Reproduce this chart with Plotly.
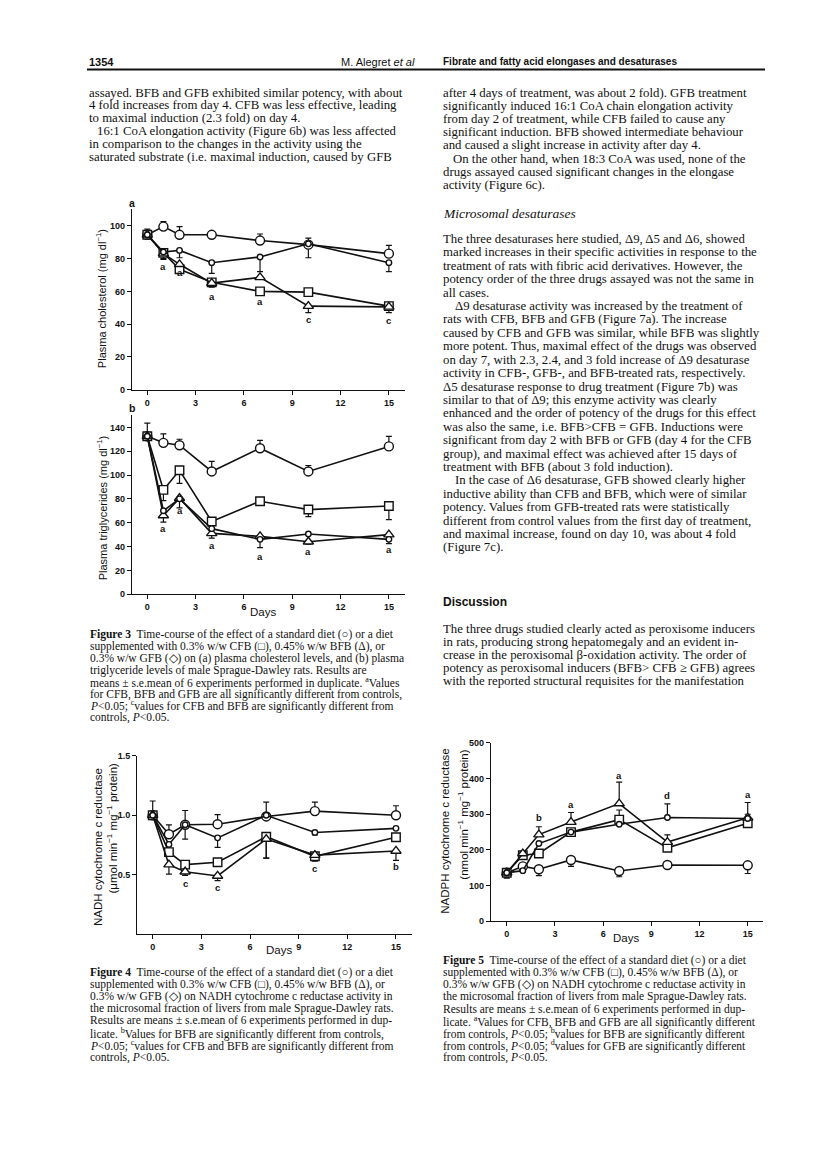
import plotly.graph_objects as go

W, H = 816, 1161


def px(x):
    return x / W


def py(y):
    return 1 - y / H


# ---------------- data ----------------
days = [0, 1, 2, 4, 7, 10, 15]

# Figure 3a: plasma cholesterol (mg/dl)
chol_ctrl = [94.5, 99.5, 94.5, 94.5, 91, 88.5, 83]
chol_ctrl_up = [3.5, 3, 5, 1, 4, 4, 5]
chol_ctrl_dn = [0, 0, 0, 0, 0, 0, 0]
chol_cfb = [94.5, 83.5, 73.5, 65.5, 60, 59.5, 51]
chol_cfb_up = [0, 0, 0, 0, 0, 0, 0]
chol_cfb_dn = [0, 4, 2.5, 3, 0, 2.5, 0]
chol_bfb = [94.5, 83, 76.5, 65, 68.5, 51, 50.5]
chol_bfb_up = [0, 0, 0, 0, 0, 0, 0]
chol_bfb_dn = [0, 0, 0, 0, 0, 4, 3.5]
chol_gfb = [94.5, 84, 85, 77.5, 81, 89, 77.5]
chol_gfb_up = [0, 0, 0, 0, 0, 0, 0]
chol_gfb_dn = [0, 4, 4.5, 6.5, 9, 8.5, 5.5]
chol_sig_days = [1, 2, 4, 7, 10, 15]
chol_sig_vals = [75, 71.5, 57, 54, 43, 42.5]
chol_sig_text = ["a", "a", "a", "a", "c", "c"]

# Figure 3b: plasma triglycerides (mg/dl)
tg_ctrl = [132.5, 127, 125, 103, 122.5, 103, 124]
tg_ctrl_up = [11, 7.5, 5, 8.5, 6.5, 5, 8.5]
tg_ctrl_dn = [0, 0, 0, 0, 0, 0, 0]
tg_cfb = [132.5, 87.5, 104, 61, 78, 71, 74]
tg_cfb_up = [0, 0, 0, 0, 0, 0, 0]
tg_cfb_dn = [0, 9, 11, 0, 3, 6, 11.5]
tg_bfb = [132.5, 66, 80.5, 51, 48.5, 44, 50]
tg_bfb_up = [0, 0, 0, 0, 0, 0, 0]
tg_bfb_dn = [0, 5.5, 8, 4, 0, 2, 0]
tg_gfb = [132.5, 70, 80, 55, 46, 50.5, 46]
tg_gfb_up = [0, 0, 0, 0, 0, 0, 0]
tg_gfb_dn = [0, 0, 0, 0, 7, 0, 3.5]
tg_sig_days = [1, 2, 4, 7, 10, 15]
tg_sig_vals = [55.5, 70.5, 41, 32, 35.5, 37.5]
tg_sig_text = ["a", "a", "a", "a", "a", "a"]

# Figure 4: NADH cytochrome c reductase (umol/min/mg protein)
nadh_ctrl = [1.0, 0.84, 0.92, 0.925, 0.99, 1.035, 1.0]
nadh_ctrl_up = [0.12, 0.08, 0.12, 0.08, 0.12, 0.075, 0.08]
nadh_ctrl_dn = [0, 0, 0.12, 0, 0, 0, 0]
nadh_cfb = [1.0, 0.69, 0.585, 0.605, 0.82, 0.655, 0.815]
nadh_cfb_up = [0, 0, 0, 0, 0, 0, 0.02]
nadh_cfb_dn = [0, 0, 0, 0.035, 0.18, 0.04, 0.02]
nadh_bfb = [1.0, 0.585, 0.525, 0.49, 0.80, 0.665, 0.70]
nadh_bfb_up = [0, 0, 0, 0, 0, 0, 0]
nadh_bfb_dn = [0, 0.08, 0.03, 0.04, 0.16, 0.02, 0.08]
nadh_gfb = [1.0, 0.755, 0.92, 0.81, 1.0, 0.855, 0.89]
nadh_gfb_up = [0, 0, 0, 0, 0, 0, 0]
nadh_gfb_dn = [0, 0, 0, 0.08, 0, 0.02, 0]
nadh_sig_days = [2, 4, 10, 15]
nadh_sig_vals = [0.43, 0.395, 0.553, 0.567]
nadh_sig_text = ["c", "c", "c", "b"]

# Figure 5: NADPH cytochrome c reductase (nmol/min/mg protein)
nadph_ctrl = [136, 154, 146, 172, 141, 158, 157]
nadph_ctrl_up = [0, 0, 0, 0, 0, 0, 0]
nadph_ctrl_dn = [15, 0, 18, 18, 16, 5, 23]
nadph_cfb = [136, 185, 190, 250, 285, 206, 275]
nadph_cfb_up = [0, 8, 0, 0, 27, 0, 25]
nadph_cfb_dn = [0, 0, 0, 0, 0, 0, 0]
nadph_bfb = [136, 190, 243, 278, 330, 222, 290]
nadph_bfb_up = [0, 0, 22, 27, 60, 20, 43]
nadph_bfb_dn = [0, 0, 0, 0, 0, 0, 0]
nadph_gfb = [136, 142, 218, 250, 272, 291, 288]
nadph_gfb_up = [0, 0, 0, 0, 0, 38, 0]
nadph_gfb_dn = [0, 0, 0, 0, 0, 0, 0]
nadph_sig_days = [2, 4, 7, 10, 15]
nadph_sig_vals = [290, 327, 410, 352, 355]
nadph_sig_text = ["b", "a", "a", "d", "a"]

x_ticks = [0, 3, 6, 9, 12, 15]

# ---------------- styles ----------------
SANS = "Liberation Sans, Arial, sans-serif"
NARROW = "Liberation Sans Narrow, Liberation Sans, Arial Narrow, sans-serif"
SERIF = "Liberation Serif, Times New Roman, serif"
INK = "#111111"

styles = {
    "ctrl": dict(symbol="circle", size=9),
    "cfb": dict(symbol="square", size=8.5),
    "bfb": dict(symbol="triangle-up", size=9),
    "gfb": dict(symbol="circle", size=5.5),
}

fig = go.Figure()


def add_panel(xa, ya, series):
    # error bars first (under the lines and markers)
    for key, vals, up, dn in series:
        idx = [i for i in range(len(days)) if up[i] > 0 or dn[i] > 0]
        if not idx:
            continue
        fig.add_trace(go.Scatter(
            x=[days[i] for i in idx], y=[vals[i] for i in idx],
            xaxis=xa, yaxis=ya, mode="markers",
            marker=dict(size=1, color="rgba(0,0,0,0)"),
            error_y=dict(type="data", symmetric=False,
                         array=[up[i] for i in idx],
                         arrayminus=[dn[i] for i in idx],
                         color=INK, thickness=1.2, width=3),
            showlegend=False, hoverinfo="skip"))
    for key, vals, up, dn in series:
        st = styles[key]
        fig.add_trace(go.Scatter(
            x=days, y=vals, xaxis=xa, yaxis=ya, mode="lines+markers",
            line=dict(color=INK, width=1.6),
            marker=dict(symbol=st["symbol"], size=st["size"], color="white",
                        line=dict(color=INK, width=1.4)),
            showlegend=False, cliponaxis=False))


add_panel("x", "y", [
    ("ctrl", chol_ctrl, chol_ctrl_up, chol_ctrl_dn),
    ("cfb", chol_cfb, chol_cfb_up, chol_cfb_dn),
    ("bfb", chol_bfb, chol_bfb_up, chol_bfb_dn),
    ("gfb", chol_gfb, chol_gfb_up, chol_gfb_dn),
])
add_panel("x2", "y2", [
    ("ctrl", tg_ctrl, tg_ctrl_up, tg_ctrl_dn),
    ("cfb", tg_cfb, tg_cfb_up, tg_cfb_dn),
    ("bfb", tg_bfb, tg_bfb_up, tg_bfb_dn),
    ("gfb", tg_gfb, tg_gfb_up, tg_gfb_dn),
])
add_panel("x3", "y3", [
    ("ctrl", nadh_ctrl, nadh_ctrl_up, nadh_ctrl_dn),
    ("cfb", nadh_cfb, nadh_cfb_up, nadh_cfb_dn),
    ("bfb", nadh_bfb, nadh_bfb_up, nadh_bfb_dn),
    ("gfb", nadh_gfb, nadh_gfb_up, nadh_gfb_dn),
])
add_panel("x4", "y4", [
    ("ctrl", nadph_ctrl, nadph_ctrl_up, nadph_ctrl_dn),
    ("cfb", nadph_cfb, nadph_cfb_up, nadph_cfb_dn),
    ("bfb", nadph_bfb, nadph_bfb_up, nadph_bfb_dn),
    ("gfb", nadph_gfb, nadph_gfb_up, nadph_gfb_dn),
])

tickfont = dict(family=SANS, size=9, color=INK, weight="bold")
ax_common = dict(showline=True, linecolor=INK, linewidth=1.3, ticks="outside",
                 ticklen=4, tickwidth=1.2, tickcolor=INK, showgrid=False,
                 zeroline=False, tickfont=tickfont, fixedrange=True)


def xaxis(dom, rng, anchor):
    return dict(ax_common, domain=dom, range=rng, anchor=anchor,
                tickvals=x_ticks, ticktext=[str(t) for t in x_ticks])


def yaxis(dom, rng, anchor, vals, text):
    return dict(ax_common, domain=dom, range=rng, anchor=anchor,
                tickvals=vals, ticktext=text)


chol_ticks = [0, 20, 40, 60, 80, 100]
tg_ticks = [0, 20, 40, 60, 80, 100, 120, 140]
nadh_ticks = [0.5, 1.0, 1.5]
nadph_ticks = [0, 100, 200, 300, 400, 500]

fig.update_layout(
    width=W, height=H, margin=dict(l=0, r=0, t=0, b=0),
    paper_bgcolor="white", plot_bgcolor="white", showlegend=False,
    xaxis=xaxis([px(132), px(405)], [-0.95, 16.0], "y"),
    yaxis=yaxis([py(388), py(206.2)], [0, 110], "x",
                chol_ticks, [str(t) for t in chol_ticks]),
    xaxis2=xaxis([px(132), px(405)], [-0.95, 16.0], "y2"),
    yaxis2=yaxis([py(594.3), py(414)], [0, 150], "x2",
                 tg_ticks, [str(t) for t in tg_ticks]),
    xaxis3=xaxis([px(137.3), px(411.7)], [-0.95, 15.97], "y3"),
    yaxis3=yaxis([py(937.3), py(757.3)], [0, 1.5], "x3",
                 nadh_ticks, ["%.1f" % t for t in nadh_ticks]),
    xaxis4=xaxis([px(491), px(763.3)], [-0.98, 15.97], "y4"),
    yaxis4=yaxis([py(924.3), py(744.3)], [0, 500], "x4",
                 nadph_ticks, [str(t) for t in nadph_ticks]),
)

ann = []

# significance letters
for xa, ya, dd, vv, tt in [
    ("x", "y", chol_sig_days, chol_sig_vals, chol_sig_text),
    ("x2", "y2", tg_sig_days, tg_sig_vals, tg_sig_text),
    ("x3", "y3", nadh_sig_days, nadh_sig_vals, nadh_sig_text),
    ("x4", "y4", nadph_sig_days, nadph_sig_vals, nadph_sig_text),
]:
    for d, v, t in zip(dd, vv, tt):
        ann.append(dict(x=d, y=v, xref=xa, yref=ya, text=t, showarrow=False,
                        font=dict(family=SANS, size=9.5, color=INK, weight="bold"),
                        xanchor="center", yanchor="middle"))


def text_at(x, y, text, size, family=SERIF, anchor="left", angle=0, weight="normal"):
    ann.append(dict(x=px(x), y=py(y), xref="paper", yref="paper", text=text,
                    showarrow=False, textangle=angle,
                    font=dict(family=family, size=size, color=INK, weight=weight),
                    xanchor=anchor, yanchor="middle"))


# axis titles and panel labels
text_at(132, 200, "a", 10.5, SANS, "center", weight="bold")
text_at(132, 406, "b", 10.5, SANS, "center", weight="bold")
text_at(101.7, 296, "Plasma cholesterol (mg dl<sup>−1</sup>)", 11, SANS, "center", -90)
text_at(101.7, 508, "Plasma triglycerides (mg dl<sup>−1</sup>)", 11, SANS, "center", -90)
text_at(263, 612, "Days", 11.5, SANS, "center")
text_at(97.3, 849, "NADH cytochrome c reductase", 11.5, SANS, "center", -90)
text_at(111.7, 830, "(μmol min<sup>−1</sup> mg<sup>−1</sup> protein)", 11.5, SANS, "center", -90)
text_at(279, 953, "Days", 11.5, SANS, "center")
text_at(445, 833, "NADPH cytochrome c reductase", 11.5, SANS, "center", -90)
text_at(462.7, 817, "(nmol min<sup>−1</sup> mg<sup>−1</sup> protein)", 11.5, SANS, "center", -90)
text_at(626, 941, "Days", 11.5, SANS, "center")

# running head
text_at(87, 57.3, "1354", 11, NARROW, "left", weight="bold")
text_at(417, 57.3, "M. Alegret <i>et al</i>", 11, NARROW, "right")
text_at(441, 57.3, "Fibrate and fatty acid elongases and desaturases", 10, NARROW, "left", weight="bold")

BODY = 12.8
left_top = [
    ("assayed. BFB and GFB exhibited similar potency, with about", 0),
    ("4 fold increases from day 4. CFB was less effective, leading", 0),
    ("to maximal induction (2.3 fold) on day 4.", 0),
    ("16:1 CoA elongation activity (Figure 6b) was less affected", 1),
    ("in comparison to the changes in the activity using the", 0),
    ("saturated substrate (i.e. maximal induction, caused by GFB", 0),
]
for i, (t, ind) in enumerate(left_top):
    text_at(87 + 8 * ind, 88.3 + 13.0 * i, t, BODY)

right_a = [
    ("after 4 days of treatment, was about 2 fold). GFB treatment", 0),
    ("significantly induced 16:1 CoA chain elongation activity", 0),
    ("from day 2 of treatment, while CFB failed to cause any", 0),
    ("significant induction. BFB showed intermediate behaviour", 0),
    ("and caused a slight increase in activity after day 4.", 0),
    ("On the other hand, when 18:3 CoA was used, none of the", 1),
    ("drugs assayed caused significant changes in the elongase", 0),
    ("activity (Figure 6c).", 0),
]
for i, (t, ind) in enumerate(right_a):
    text_at(441 + 10 * ind, 88.3 + 13.34 * i, t, BODY)

text_at(441, 210.7, "<i>Microsomal desaturases</i>", 13.5)

right_b = [
    ("The three desaturases here studied, Δ9, Δ5 and Δ6, showed", 0),
    ("marked increases in their specific activities in response to the", 0),
    ("treatment of rats with fibric acid derivatives. However, the", 0),
    ("potency order of the three drugs assayed was not the same in", 0),
    ("all cases.", 0),
    ("Δ9 desaturase activity was increased by the treatment of", 1),
    ("rats with CFB, BFB and GFB (Figure 7a). The increase", 0),
    ("caused by CFB and GFB was similar, while BFB was slightly", 0),
    ("more potent. Thus, maximal effect of the drugs was observed", 0),
    ("on day 7, with 2.3, 2.4, and 3 fold increase of Δ9 desaturase", 0),
    ("activity in CFB-, GFB-, and BFB-treated rats, respectively.", 0),
    ("Δ5 desaturase response to drug treatment (Figure 7b) was", 0),
    ("similar to that of Δ9; this enzyme activity was clearly", 0),
    ("enhanced and the order of potency of the drugs for this effect", 0),
    ("was also the same, i.e. BFB&gt;CFB = GFB. Inductions were", 0),
    ("significant from day 2 with BFB or GFB (day 4 for the CFB", 0),
    ("group), and maximal effect was achieved after 15 days of", 0),
    ("treatment with BFB (about 3 fold induction).", 0),
    ("In the case of Δ6 desaturase, GFB showed clearly higher", 1),
    ("inductive ability than CFB and BFB, which were of similar", 0),
    ("potency. Values from GFB-treated rats were statistically", 0),
    ("different from control values from the first day of treatment,", 0),
    ("and maximal increase, found on day 10, was about 4 fold", 0),
    ("(Figure 7c).", 0),
]
for i, (t, ind) in enumerate(right_b):
    text_at(441 + 12 * ind, 236 + 13.53 * i, t, BODY)

text_at(441, 601.7, "Discussion", 12, NARROW, weight="bold")

right_c = [
    "The three drugs studied clearly acted as peroxisome inducers",
    "in rats, producing strong hepatomegaly and an evident in-",
    "crease in the peroxisomal β-oxidation activity. The order of",
    "potency as peroxisomal inducers (BFB&gt; CFB ≥ GFB) agrees",
    "with the reported structural requisites for the manifestation",
]
for i, t in enumerate(right_c):
    text_at(441, 629 + 13.33 * i, t, BODY)

CAP = 11.5
cap3 = [
    "<b>Figure 3</b>  Time-course of the effect of a standard diet (○) or a diet",
    "supplemented with 0.3% w/w CFB (□), 0.45% w/w BFB (Δ), or",
    "0.3% w/w GFB (◇) on (a) plasma cholesterol levels, and (b) plasma",
    "triglyceride levels of male Sprague-Dawley rats. Results are",
    "means ± s.e.mean of 6 experiments performed in duplicate. <sup>a</sup>Values",
    "for CFB, BFB and GFB are all significantly different from controls,",
    "<i>P</i>&lt;0.05; <sup>c</sup>values for CFB and BFB are significantly different from",
    "controls, <i>P</i>&lt;0.05.",
]
for i, t in enumerate(cap3):
    text_at(88, 635 + 12.0 * i, t, CAP)

cap4 = [
    "<b>Figure 4</b>  Time-course of the effect of a standard diet (○) or a diet",
    "supplemented with 0.3% w/w CFB (□), 0.45% w/w BFB (Δ), or",
    "0.3% w/w GFB (◇) on NADH cytochrome c reductase activity in",
    "the microsomal fraction of livers from male Sprague-Dawley rats.",
    "Results are means ± s.e.mean of 6 experiments performed in dup-",
    "licate. <sup>b</sup>Values for BFB are significantly different from controls,",
    "<i>P</i>&lt;0.05; <sup>c</sup>values for CFB and BFB are significantly different from",
    "controls, <i>P</i>&lt;0.05.",
]
for i, t in enumerate(cap4):
    text_at(87.5, 976 + 12.2 * i, t, CAP)

cap5 = [
    "<b>Figure 5</b>  Time-course of the effect of a standard diet (○) or a diet",
    "supplemented with 0.3% w/w CFB (□), 0.45% w/w BFB (Δ), or",
    "0.3% w/w GFB (◇) on NADH cytochrome c reductase activity in",
    "the microsomal fraction of livers from male Sprague-Dawley rats.",
    "Results are means ± s.e.mean of 6 experiments performed in dup-",
    "licate. <sup>a</sup>Values for CFB, BFB and GFB are all significantly different",
    "from controls, <i>P</i>&lt;0.05; <sup>b</sup>values for BFB are significantly different",
    "from controls, <i>P</i>&lt;0.05; <sup>d</sup>values for GFB are significantly different",
    "from controls, <i>P</i>&lt;0.05.",
]
for i, t in enumerate(cap5):
    text_at(441, 964 + 12.2 * i, t, CAP)

fig.update_layout(annotations=ann, shapes=[
    dict(type="line", xref="paper", yref="paper", x0=px(87), x1=px(765),
         y0=py(65), y1=py(65), line=dict(color=INK, width=2)),
])

fig.write_html("out.html", config={"displayModeBar": False},
               post_script="document.body.style.margin='0';")
